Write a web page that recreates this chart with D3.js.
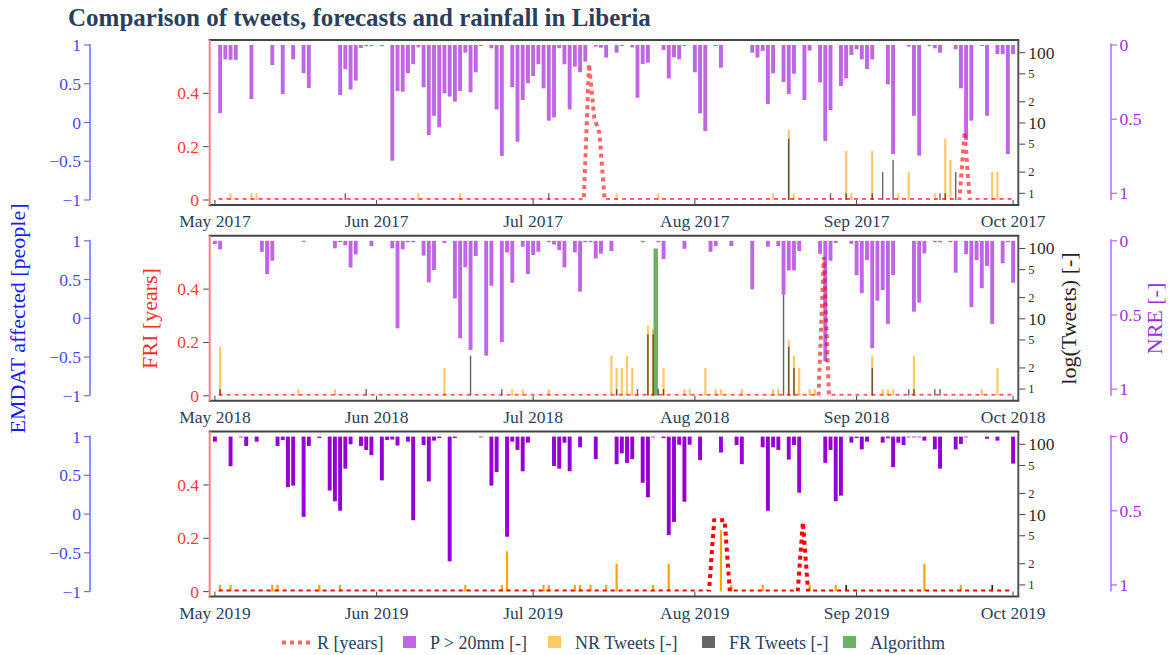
<!DOCTYPE html>
<html>
<head>
<meta charset="utf-8">
<script src="https://cdn.jsdelivr.net/npm/d3@7"></script>
<style>
  body { margin: 0; background: #fff; }
  svg { display: block; font-family: "Liberation Serif", "Times New Roman", serif; }
</style>
</head>
<body>
<svg id="chart" width="1169" height="655"></svg>
<script>
// ---------------------------------------------------------------
// Data: one panel per rainy season (1 May - 1 Oct)
// ---------------------------------------------------------------
const years = [2017, 2018, 2019];
const monthTickLabels = ["May", "Jun", "Jul", "Aug", "Sep", "Oct"];

// Normalised rainfall exceedance (days with P > 20 mm), [MM-DD, NRE]
const nre2017 = [
  ["05-02",0.46],["05-03",0.097],["05-04",0.10],["05-05",0.10],["05-08",0.364],["05-12",0.135],
  ["05-14",0.33],["05-16",0.097],["05-18",0.19],["05-19",0.29],["05-25",0.337],["05-26",0.162],
  ["05-27",0.30],["05-28",0.24],["05-29",0.02],["05-30",0.008],["05-31",0.008],["06-02",0.008],
  ["06-04",0.78],["06-05",0.31],["06-06",0.315],["06-07",0.19],["06-08",0.13],["06-09",0.016],
  ["06-10",0.285],["06-11",0.607],["06-12",0.477],["06-13",0.555],["06-14",0.326],["06-15",0.348],
  ["06-16",0.382],["06-17",0.31],["06-18",0.052],["06-19",0.319],["06-20",0.184],["06-21",0.007],
  ["06-23",0.022],["06-24",0.434],["06-25",0.749],["06-27",0.285],["06-28",0.652],["06-29",0.371],
  ["06-30",0.258],["07-01",0.209],["07-02",0.13],["07-03",0.292],["07-04",0.51],["07-05",0.488],
  ["07-06",0.022],["07-07",0.13],["07-08",0.434],["07-09",0.146],["07-10",0.184],["07-11",0.112],
  ["07-13",0.011],["07-14",0.018],["07-15",0.085],["07-17",0.052],["07-18",0.007],["07-20",0.016],
  ["07-21",0.355],["07-22",0.128],["07-23",0.119],["07-26",0.034],["07-27",0.225],["07-28",0.083],
  ["07-29",0.097],["07-30",0.007],["08-01",0.184],["08-02",0.461],["08-03",0.58],["08-05",0.007],
  ["08-06",0.153],["08-12",0.052],["08-13",0.085],["08-14",0.04],["08-15",0.398],["08-16",0.191],
  ["08-18",0.25],["08-19",0.33],["08-20",0.194],["08-22",0.371],["08-23",0.038],["08-25",0.252],
  ["08-26",0.647],["08-27",0.44],["08-29",0.276],["08-30",0.225],["08-31",0.067],["09-01",0.029],
  ["09-02",0.097],["09-03",0.162],["09-04",0.097],["09-07",0.265],["09-08",0.735],["09-11",0.011],
  ["09-12",0.477],["09-13",0.746],["09-15",0.007],["09-16",0.022],["09-17",0.052],["09-20",0.029],
  ["09-21",0.292],["09-22",0.64],["09-23",0.51],["09-25",0.007],["09-26",0.477],["09-28",0.061],
  ["09-29",0.061],["09-30",0.735],["10-01",0.061]
];
const nre2018 = [
  ["05-01",0.022],["05-02",0.058],["05-10",0.074],["05-11",0.224],["05-12",0.134],["05-18",0.008],
  ["05-24",0.051],["05-25",0.01],["05-26",0.03],["05-27",0.18],["05-28",0.092],["05-31",0.036],
  ["06-04",0.051],["06-05",0.59],["06-06",0.058],["06-07",0.01],["06-08",0.01],["06-10",0.1],
  ["06-11",0.28],["06-12",0.197],["06-14",0.015],["06-16",0.388],["06-17",0.657],["06-18",0.179],
  ["06-19",0.736],["06-20",0.103],["06-22",0.774],["06-23",0.303],["06-25",0.684],["06-26",0.078],
  ["06-27",0.283],["06-29",0.04],["06-30",0.224],["07-01",0.096],["07-02",0.074],["07-04",0.01],
  ["07-05",0.025],["07-06",0.063],["07-07",0.179],["07-09",0.078],["07-10",0.343],["07-11",0.01],
  ["07-12",0.01],["07-13",0.119],["07-14",0.087],["07-16",0.069],["07-22",0.01],["07-25",0.01],
  ["07-26",0.123],["07-30",0.054],["08-04",0.074],["08-05",0.036],["08-08",0.036],["08-12",0.327],
  ["08-15",0.04],["08-17",0.036],["08-18",0.363],["08-19",0.2],["08-20",0.2],["08-21",0.07],
  ["08-25",0.088],["08-26",0.814],["08-27",0.134],["08-28",0.015],["08-31",0.02],["09-01",0.231],
  ["09-02",0.354],["09-03",0.13],["09-04",0.724],["09-05",0.404],["09-06",0.332],["09-07",0.56],
  ["09-08",0.231],["09-12",0.478],["09-13",0.417],["09-14",0.085],["09-16",0.01],["09-17",0.01],
  ["09-19",0.01],["09-20",0.215],["09-22",0.09],["09-23",0.448],["09-24",0.13],["09-25",0.32],
  ["09-26",0.17],["09-27",0.56],["09-29",0.152],["09-30",0.01],["10-01",0.283]
];
const nre2019 = [
  ["05-01",0.034],["05-04",0.2],["05-06",0.005],["05-07",0.063],["05-09",0.034],["05-13",0.063],
  ["05-14",0.023],["05-15",0.341],["05-16",0.33],["05-18",0.541],["05-19",0.063],["05-21",0.01],
  ["05-23",0.364],["05-24",0.436],["05-25",0.5],["05-26",0.216],["05-27",0.052],["05-29",0.063],
  ["05-30",0.09],["05-31",0.125],["06-02",0.295],["06-03",0.023],["06-04",0.02],["06-05",0.06],
  ["06-07",0.034],["06-08",0.564],["06-10",0.057],["06-11",0.302],["06-12",0.027],["06-13",0.01],
  ["06-15",0.841],["06-16",0.01],["06-21",0.005],["06-23",0.33],["06-24",0.239],["06-26",0.675],
  ["06-27",0.034],["06-28",0.09],["06-29",0.234],["06-30",0.041],["07-05",0.198],["07-06",0.216],
  ["07-07",0.041],["07-08",0.234],["07-10",0.072],["07-13",0.152],["07-17",0.186],["07-18",0.113],
  ["07-19",0.177],["07-20",0.152],["07-22",0.311],["07-23",0.409],["07-24",0.005],["07-26",0.01],
  ["07-27",0.664],["07-28",0.575],["07-29",0.055],["07-30",0.439],["07-31",0.055],["08-02",0.159],
  ["08-06",0.107],["08-09",0.057],["08-10",0.186],["08-14",0.072],["08-15",0.5],["08-16",0.072],
  ["08-17",0.09],["08-19",0.155],["08-20",0.057],["08-21",0.378],["08-26",0.177],["08-27",0.09],
  ["08-28",0.436],["08-29",0.398],["08-31",0.041],["09-01",0.01],["09-02",0.086],["09-03",0.034],
  ["09-06",0.041],["09-07",0.011],["09-08",0.205],["09-09",0.041],["09-10",0.057],["09-11",0.005],
  ["09-12",0.005],["09-13",0.005],["09-14",0.027],["09-16",0.086],["09-17",0.216],["09-20",0.086],
  ["09-21",0.05],["09-22",0.005],["09-26",0.015],["09-28",0.027],["10-01",0.182]
];

// Daily tweet counts: non-relevant (NR) and flood-relevant (FR), [MM-DD, count]
const nrTweets2017 = [
  ["05-04",1],["05-08",1],["05-09",1],["06-09",1],["06-17",1],["07-17",1],["07-25",1],["08-16",1],
  ["08-19",8],["08-20",1],["08-30",4],["08-31",1],["09-04",4],["09-09",1],["09-11",2],["09-16",1],
  ["09-18",6],["09-19",3],["09-27",2],["09-28",2]
];
const frTweets2017 = [
  ["05-26",1],["07-04",1],["08-19",6],["08-27",1],["08-30",1],["09-04",1],["09-06",2],["09-08",3],
  ["09-17",1],["09-18",1],["09-20",2]
];
const nrTweets2018 = [
  ["05-02",4],["05-17",1],["05-24",1],["06-14",2],["06-27",1],["06-29",1],["07-04",1],["07-16",3],
  ["07-17",2],["07-18",2],["07-19",3],["07-20",2],["07-23",8],["07-24",7],["07-26",2],["07-30",1],
  ["07-31",1],["08-03",2],["08-05",1],["08-06",1],["08-10",1],["08-16",1],["08-17",1],["08-19",5],
  ["08-20",3],["08-21",2],["08-23",1],["08-24",1],["09-04",3],["09-06",1],["09-07",1],["09-08",1],
  ["09-12",3],["09-25",1],["09-28",2]
];
const frTweets2018 = [
  ["05-02",1],["05-30",1],["06-19",3],["06-25",1],["07-17",1],["07-21",1],["07-23",6],["07-24",6],
  ["07-25",1],["07-26",1],["08-18",22],["08-19",4],["08-20",2],["09-04",2],["09-11",1],["09-12",1],
  ["09-16",1],["09-17",1]
];
const nrTweets2019 = [
  ["05-02",1],["05-04",1],["05-12",1],["05-13",1],["05-21",1],["05-25",1],["06-18",1],["06-25",1],
  ["06-26",3],["07-03",1],["07-04",1],["07-09",1],["07-10",1],["07-12",1],["07-15",1],["07-17",2],
  ["07-24",1],["07-27",2],["08-06",6],["08-08",1],["08-14",1],["08-23",1],["08-28",1],["09-14",2],
  ["09-21",1]
];
const frTweets2019 = [["08-30",1],["09-27",1]];

// Flood events flagged by the detection algorithm, [MM-DD HH:MM, marker height]
const algorithm2017 = [];
const algorithm2018 = [["07-24 12:00",100]];
const algorithm2019 = [];

// Forecast return period R (FRI) line vertices, [MM-DD HH:MM, years]
const fri2017 = [
  ["05-01 17:00",0],["07-10 17:00",0],["07-11 17:00",0.51],["07-12 17:00",0.31],["07-13 17:00",0.25],
  ["07-14 17:00",0],["09-20 17:00",0],["09-21 17:00",0.256],["09-22 17:00",0],["09-30 17:00",0]
];
const fri2018 = [
  ["05-01 17:00",0],["08-24 17:00",0],["08-25 17:00",0.52],["08-26 17:00",0],["09-30 17:00",0]
];
const fri2019 = [
  ["05-01 17:00",0],["08-03 17:00",0],["08-04 17:00",0.268],["08-05 17:00",0.268],["08-06 17:00",0.268],
  ["08-07 17:00",0],["08-20 17:00",0],["08-21 17:00",0.26],["08-22 17:00",0],["09-30 17:00",0]
];

// Axis tick values / labels
const friTicks = [0, 0.2, 0.4];
const tweetTicks = [1, 2, 5, 10, 20, 50, 100];
const tweetTickLabels = ["1", "2", "5", "10", "2", "5", "100"];
const emdatTicks = [-1, -0.5, 0, 0.5, 1];
const nreTicks = [0, 0.5, 1];

const legendLabels = ["R [years]", "P > 20mm [-]", "NR Tweets [-]", "FR Tweets [-]", "Algorithm"];

// ---------------------------------------------------------------
// Layout
// ---------------------------------------------------------------
const svg = d3.select("#chart");
const FONT_TEXT = "#2a3f5f";
const PITCH = 195.8;            // vertical distance between panels
const X0 = 209.7, X1 = 1018.3;  // plot area left/right
const DOM_TOP = 40, DOM_BOTTOM = 200;   // FRI / tweet axes domain (panel 1)
const AUX_TOP = 45;                     // EMDAT / NRE axes domain top
const FRAME_TOP = 39.9, FRAME_BOTTOM = 205;
const DAY = 24 * 3600 * 1000;

const parseDay = d3.utcParse("%Y-%m-%d");
const parseTime = d3.utcParse("%Y-%m-%d %H:%M");

const seriesByYear = {
  2017: {nre: nre2017, nr: nrTweets2017, fr: frTweets2017, alg: algorithm2017, fri: fri2017},
  2018: {nre: nre2018, nr: nrTweets2018, fr: frTweets2018, alg: algorithm2018, fri: fri2018},
  2019: {nre: nre2019, nr: nrTweets2019, fr: frTweets2019, alg: algorithm2019, fri: fri2019}
};

// panel styles: earlier seasons are drawn translucent
const panelStyle = [
  {opacity: 0.6}, {opacity: 0.6}, {opacity: 1}
];

svg.append("text")
  .attr("x", 68).attr("y", 26)
  .attr("font-size", 25).attr("font-weight", "bold")
  .attr("fill", FONT_TEXT)
  .text("Comparison of tweets, forecasts and rainfall in Liberia");

const defs = svg.append("defs");

years.forEach((year, i) => {
  const off = i * PITCH;
  const data = seriesByYear[year];
  const op = panelStyle[i].opacity;
  const g = svg.append("g");

  const x = d3.scaleUtc()
    .domain([new Date(Date.UTC(year, 3, 30)), new Date(Date.UTC(year, 9, 2))])
    .range([X0, X1]);
  const yFri = d3.scaleLinear().domain([0, 0.6]).range([DOM_BOTTOM + off, DOM_TOP + off]);
  const yTw = d3.scaleLog().domain([Math.pow(10, -0.0953), Math.pow(10, 2.1804)])
    .range([DOM_BOTTOM + off, DOM_TOP + off]);
  const yNre = d3.scaleLinear().domain([0, 1.045]).range([AUX_TOP + off, DOM_BOTTOM + off]);
  const yEm = d3.scaleLinear().domain([-1, 1]).range([DOM_BOTTOM + off, AUX_TOP + off]);

  const day = s => parseDay(year + "-" + s);
  const time = s => parseTime(year + "-" + s);
  const dayPx = x(new Date(Date.UTC(year, 4, 2))) - x(new Date(Date.UTC(year, 4, 1)));

  const clipId = "clip" + year;
  defs.append("clipPath").attr("id", clipId)
    .append("rect")
    .attr("x", X0).attr("y", DOM_TOP + off)
    .attr("width", X1 - X0).attr("height", DOM_BOTTOM - DOM_TOP);

  const plot = g.append("g").attr("clip-path", `url(#${clipId})`);

  // rainfall exceedance bars, hanging from the top
  const barW = dayPx * 0.75;
  plot.append("g").selectAll("rect").data(data.nre).join("rect")
    .attr("x", d => x(day(d[0])) - barW / 2)
    .attr("y", yNre(0))
    .attr("width", barW)
    .attr("height", d => yNre(d[1]) - yNre(0))
    .attr("fill", "darkviolet").attr("fill-opacity", op);

  // tweet counts on a log axis
  plot.append("g").selectAll("rect").data(data.nr).join("rect")
    .attr("x", d => x(day(d[0])) - 1.1)
    .attr("y", d => yTw(d[1]))
    .attr("width", 2.2)
    .attr("height", d => DOM_BOTTOM + off - yTw(d[1]))
    .attr("fill", "orange").attr("fill-opacity", op);
  plot.append("g").selectAll("rect").data(data.fr).join("rect")
    .attr("x", d => x(day(d[0])) - 0.7)
    .attr("y", d => yTw(d[1]))
    .attr("width", 1.4)
    .attr("height", d => DOM_BOTTOM + off - yTw(d[1]))
    .attr("fill", "black").attr("fill-opacity", op);

  // algorithm detections
  const algW = dayPx * 0.85;
  plot.append("g").selectAll("rect").data(data.alg).join("rect")
    .attr("x", d => x(time(d[0])) - algW / 2)
    .attr("y", d => yTw(d[1]))
    .attr("width", algW)
    .attr("height", d => DOM_BOTTOM + off - yTw(d[1]))
    .attr("fill", "green").attr("fill-opacity", 0.6);

  // forecast return period
  const line = d3.line().x(d => x(time(d[0]))).y(d => yFri(d[1]));
  plot.append("path")
    .datum(data.fri)
    .attr("d", line)
    .attr("fill", "none")
    .attr("stroke", "red").attr("stroke-opacity", op)
    .attr("stroke-width", 4)
    .attr("stroke-dasharray", "4,4");

  // frame
  g.append("line").attr("x1", X0 - 1).attr("x2", X1 + 1)
    .attr("y1", FRAME_TOP + off).attr("y2", FRAME_TOP + off)
    .attr("stroke", "#444").attr("stroke-width", 2);
  g.append("line").attr("x1", X0 - 1).attr("x2", X1 + 1)
    .attr("y1", FRAME_BOTTOM + off).attr("y2", FRAME_BOTTOM + off)
    .attr("stroke", "#444").attr("stroke-width", 2);
  g.append("line").attr("x1", X1).attr("x2", X1)
    .attr("y1", FRAME_TOP + off).attr("y2", FRAME_BOTTOM + off)
    .attr("stroke", "#555").attr("stroke-width", 2);
  g.append("line").attr("x1", X0).attr("x2", X0)
    .attr("y1", FRAME_TOP + off).attr("y2", FRAME_BOTTOM + off)
    .attr("stroke", "#ff8080").attr("stroke-width", 2);

  // x axis: month ticks inside, labels below
  const months = d3.utcMonth.range(new Date(Date.UTC(year, 4, 1)), new Date(Date.UTC(year, 9, 2)));
  g.append("g").selectAll("line").data(months).join("line")
    .attr("x1", d => x(d)).attr("x2", d => x(d))
    .attr("y1", FRAME_BOTTOM + off - 5).attr("y2", FRAME_BOTTOM + off)
    .attr("stroke", "#444").attr("stroke-width", 1);
  g.append("g").selectAll("text").data(months).join("text")
    .attr("x", d => x(d)).attr("y", FRAME_BOTTOM + off + 22)
    .attr("text-anchor", "middle").attr("font-size", 17.5).attr("fill", FONT_TEXT)
    .text((d, k) => monthTickLabels[k] + " " + year);

  // FRI axis (left, red)
  g.append("g").selectAll("line").data(friTicks).join("line")
    .attr("x1", X0 - 6.5).attr("x2", X0 - 1)
    .attr("y1", d => yFri(d)).attr("y2", d => yFri(d))
    .attr("stroke", "#444").attr("stroke-width", 1);
  g.append("g").selectAll("text").data(friTicks).join("text")
    .attr("x", 199).attr("y", d => yFri(d) + 6)
    .attr("text-anchor", "end").attr("font-size", 17.5).attr("fill", "#ff3b3b")
    .text(d => d3.format("")(d));

  // tweets axis (right, log)
  g.append("g").selectAll("line").data(tweetTicks).join("line")
    .attr("x1", X1 + 1).attr("x2", X1 + 7)
    .attr("y1", d => yTw(d)).attr("y2", d => yTw(d))
    .attr("stroke", "#444").attr("stroke-width", 1);
  g.append("g").selectAll("text").data(tweetTicks).join("text")
    .attr("x", X1 + 10)
    .attr("y", (d, k) => yTw(d) + (tweetTickLabels[k].length > 1 ? 6 : 4.3))
    .attr("font-size", (d, k) => tweetTickLabels[k].length > 1 ? 17.5 : 12.5)
    .attr("fill", "#2b2b2b")
    .text((d, k) => tweetTickLabels[k]);

  // EMDAT axis (free, far left, blue)
  g.append("line").attr("x1", 90).attr("x2", 90)
    .attr("y1", yEm(1) - 1).attr("y2", yEm(-1))
    .attr("stroke", "#6e6eff").attr("stroke-width", 1.5);
  g.append("g").selectAll("line").data(emdatTicks).join("line")
    .attr("x1", 84).attr("x2", 90)
    .attr("y1", d => yEm(d)).attr("y2", d => yEm(d))
    .attr("stroke", "#6e6eff").attr("stroke-width", 1.2);
  g.append("g").selectAll("text").data(emdatTicks).join("text")
    .attr("x", 81).attr("y", d => yEm(d) + 6)
    .attr("text-anchor", "end").attr("font-size", 17.5).attr("fill", "#4848ff")
    .text(d => d3.format("")(d));

  // NRE axis (free, far right, purple, reversed)
  g.append("line").attr("x1", 1111).attr("x2", 1111)
    .attr("y1", yNre(0) - 1.5).attr("y2", DOM_BOTTOM + off)
    .attr("stroke", "rgb(191,102,229)").attr("stroke-width", 1.5);
  g.append("g").selectAll("line").data(nreTicks).join("line")
    .attr("x1", 1111).attr("x2", 1117)
    .attr("y1", d => yNre(d)).attr("y2", d => yNre(d))
    .attr("stroke", "rgb(191,102,229)").attr("stroke-width", 1.2);
  g.append("g").selectAll("text").data(nreTicks).join("text")
    .attr("x", 1119.5).attr("y", d => yNre(d) + 6)
    .attr("font-size", 17.5).attr("fill", "#9b30d9")
    .text(d => d3.format("")(d));
});

// axis titles (shared, vertical)
const yTitles = [
  {text: "EMDAT affected [people]", x: 25, color: "#1a1aff"},
  {text: "FRI [years]", x: 157, color: "#ff2a2a"},
  {text: "log(Tweets) [-]", x: 1076, color: "#222"},
  {text: "NRE [-]", x: 1162, color: "#9b30d9"}
];
svg.append("g").selectAll("text").data(yTitles).join("text")
  .attr("transform", d => `translate(${d.x},318.5) rotate(-90)`)
  .attr("text-anchor", "middle").attr("font-size", 22)
  .attr("fill", d => d.color)
  .text(d => d.text);

// legend
const legendX = [282, 403, 548, 702, 843];
const legendKinds = ["line", "darkviolet", "orange", "black", "green"];
const leg = svg.append("g");
legendLabels.forEach((lab, k) => {
  const lx = legendX[k];
  if (legendKinds[k] === "line") {
    leg.append("line").attr("x1", lx).attr("x2", lx + 30)
      .attr("y1", 642.5).attr("y2", 642.5)
      .attr("stroke", "red").attr("stroke-opacity", 0.6)
      .attr("stroke-width", 4).attr("stroke-dasharray", "4,4");
    leg.append("text").attr("x", lx + 35).attr("y", 649)
      .attr("font-size", 18).attr("fill", FONT_TEXT).text(lab);
  } else {
    leg.append("rect").attr("x", lx).attr("y", 636).attr("width", 13).attr("height", 12)
      .attr("fill", legendKinds[k]).attr("fill-opacity", 0.6);
    leg.append("text").attr("x", lx + 27).attr("y", 649)
      .attr("font-size", 18).attr("fill", FONT_TEXT).text(lab);
  }
});
</script>
</body>
</html>
